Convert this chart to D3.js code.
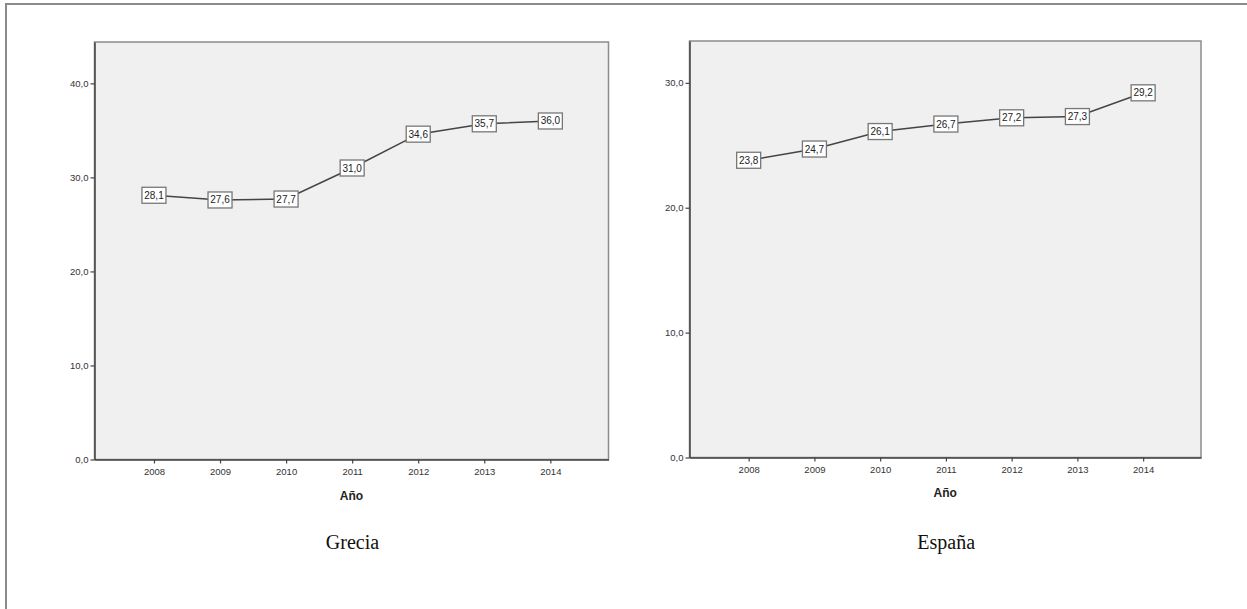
<!DOCTYPE html>
<html>
<head>
<meta charset="utf-8">
<script src="https://cdn.jsdelivr.net/npm/d3@7"></script>
<style>
  html, body { margin: 0; padding: 0; background: #fff; }
  svg { display: block; }
</style>
</head>
<body>
<svg id="chart" width="1247" height="609"></svg>
<script>
const years = [2008, 2009, 2010, 2011, 2012, 2013, 2014];
const greciaValues = [28.1, 27.6, 27.7, 31.0, 34.6, 35.7, 36.0];
const espanaValues = [23.8, 24.7, 26.1, 26.7, 27.2, 27.3, 29.2];
const greciaTicks = [0, 10, 20, 30, 40];
const espanaTicks = [0, 10, 20, 30];
const panelTitles = ["Grecia", "España"];
const xAxisTitle = "Año";

const svg = d3.select("#chart");
const fmt = v => d3.format(".1f")(v).replace(".", ",");

// outer frame (only left & top visible)
svg.append("path")
  .attr("d", "M6,609 L6,4 L1247,4")
  .attr("fill", "none").attr("stroke", "#8a8a8a").attr("stroke-width", 2);

const panels = [
  { title: panelTitles[0], values: greciaValues, ticks: greciaTicks,
    x0: 94.5, x1: 608.5, y0: 459.5, y1: 42, ymax: 44.4, titleY: 500 },
  { title: panelTitles[1], values: espanaValues, ticks: espanaTicks,
    x0: 689.5, x1: 1201, y0: 457.5, y1: 41, ymax: 33.35, titleY: 497 }
];

panels.forEach(p => {
  const g = svg.append("g");
  const x = d3.scaleLinear().domain([2007.1, 2014.88]).range([p.x0, p.x1]);
  const y = d3.scaleLinear().domain([0, p.ymax]).range([p.y0, p.y1]);

  // plot background + frame
  g.append("rect")
    .attr("x", p.x0).attr("y", p.y1)
    .attr("width", p.x1 - p.x0).attr("height", p.y0 - p.y1)
    .attr("fill", "#f0f0f0").attr("stroke", "#8c8c8c").attr("stroke-width", 1.5);

  const tickFont = sel => sel.attr("fill", "#333")
    .style("font-family", "'Liberation Sans', Arial, sans-serif").style("font-size", "9.5px");

  // y axis
  const yAxis = d3.axisLeft(y).tickValues(p.ticks).tickFormat(fmt)
    .tickSizeInner(4).tickSizeOuter(0).tickPadding(2);
  const ya = g.append("g").attr("transform", `translate(${p.x0},0)`).call(yAxis);
  ya.select(".domain").attr("stroke", "#444").attr("stroke-width", 1.5);
  ya.selectAll(".tick line").attr("stroke", "#444").attr("stroke-width", 1.2);
  ya.selectAll(".tick text").call(tickFont);

  // x axis
  const xAxis = d3.axisBottom(x).tickValues(years).tickFormat(d3.format("d"))
    .tickSizeInner(4).tickSizeOuter(0).tickPadding(5);
  const xa = g.append("g").attr("transform", `translate(0,${p.y0})`).call(xAxis);
  xa.select(".domain").attr("stroke", "#444").attr("stroke-width", 1.5);
  xa.selectAll(".tick line").attr("stroke", "#444").attr("stroke-width", 1.2);
  xa.selectAll(".tick text").call(tickFont);

  // axis title
  g.append("text")
    .attr("x", (p.x0 + p.x1) / 2).attr("y", p.titleY)
    .attr("text-anchor", "middle")
    .style("font-family", "'Liberation Sans', Arial, sans-serif")
    .style("font-size", "12px").style("font-weight", "bold").attr("fill", "#222")
    .text(xAxisTitle);

  // line
  const line = d3.line().x((d, i) => x(years[i])).y(d => y(d));
  g.append("path").datum(p.values)
    .attr("d", line).attr("fill", "none")
    .attr("stroke", "#444").attr("stroke-width", 1.5);

  // labels in boxes
  const lab = g.selectAll(".lab").data(p.values).enter().append("g")
    .attr("transform", (d, i) => `translate(${x(years[i])},${y(d)})`);
  lab.append("rect")
    .attr("x", -12).attr("y", -8).attr("width", 24).attr("height", 16)
    .attr("fill", "#fff").attr("stroke", "#777").attr("stroke-width", 1.3);
  lab.append("text")
    .attr("text-anchor", "middle").attr("dy", "0.35em")
    .style("font-family", "'Liberation Sans', Arial, sans-serif")
    .style("font-size", "10px").attr("fill", "#222")
    .text(d => fmt(d));

  // panel title
  svg.append("text")
    .attr("x", (p.x0 + p.x1) / 2 + 1).attr("y", 549)
    .attr("text-anchor", "middle")
    .style("font-family", "'Liberation Serif', 'Times New Roman', serif")
    .style("font-size", "20px").attr("fill", "#111")
    .text(p.title);
});
</script>
</body>
</html>
